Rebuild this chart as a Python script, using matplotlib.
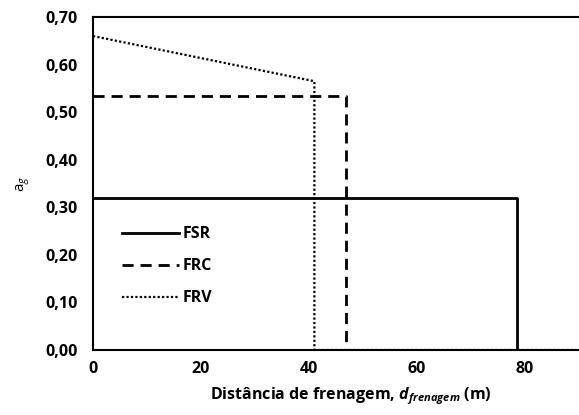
import numpy as np
import matplotlib
matplotlib.use('Agg')
import matplotlib.pyplot as plt
from matplotlib.ticker import FuncFormatter

plt.rcParams['font.family'] = ['Open Sans', 'DejaVu Sans']
plt.rcParams['mathtext.fontset'] = 'custom'
plt.rcParams['mathtext.rm'] = 'Open Sans'
plt.rcParams['mathtext.it'] = 'Open Sans:italic'
plt.rcParams['mathtext.bf'] = 'Open Sans:bold'
plt.rcParams['mathtext.bfit'] = 'Open Sans:bold:italic'

# dados
fsr_x = [0, 78.5, 78.5, 90]
fsr_y = [0.32, 0.32, 0.0, 0.0]
frc_x = [0, 46.8, 46.8, 90]
frc_y = [0.535, 0.535, 0.0, 0.0]
frv_x = [0, 41.0, 41.0, 90]
frv_y = [0.66, 0.565, 0.0, 0.0]

fig = plt.figure(figsize=(5.79, 4.15), dpi=100)
ax = fig.add_axes([0.1606, 0.1566, 0.8394, 0.8024])

ax.plot(fsr_x, fsr_y, color='black', lw=2.0, ls='-', label='FSR')
ax.plot(frc_x, frc_y, color='black', lw=2.0, ls=(0, (4, 2.5)), label='FRC')
ax.plot(frv_x, frv_y, color='black', lw=1.6, ls=(0, (1, 1)), label='FRV')

ax.set_xlim(0, 90)
ax.set_ylim(0, 0.70)
ax.set_xticks([0, 20, 40, 60, 80])
ax.set_yticks(np.arange(0, 0.71, 0.1))
ax.yaxis.set_major_formatter(FuncFormatter(lambda v, p: f'{v:.2f}'.replace('.', ',')))
ax.tick_params(length=0, labelsize=11.5, pad=8)
ax.tick_params(axis='y', pad=11)
for lab in ax.get_xticklabels() + ax.get_yticklabels():
    lab.set_fontweight('bold')

ax.spines['right'].set_visible(False)
for s in ['left', 'top', 'bottom']:
    ax.spines[s].set_linewidth(1.5)

ax.set_xlabel(r'Distância de frenagem, $\mathbfit{d}_{\mathbfit{frenagem}}$ (m)',
              fontsize=11.5, fontweight='bold')
ax.xaxis.set_label_coords(0.531, -0.105)
ax.set_ylabel(r'a$_g$', fontsize=11)
ax.yaxis.set_label_coords(-0.125, 0.5)

leg = ax.legend(loc='lower left', bbox_to_anchor=(0.03, 0.088), frameon=False,
                handlelength=3.6, handletextpad=0.2, labelspacing=1.0,
                prop={'weight': 'bold', 'size': 11.5})

fig.savefig('out.png', dpi=100)
